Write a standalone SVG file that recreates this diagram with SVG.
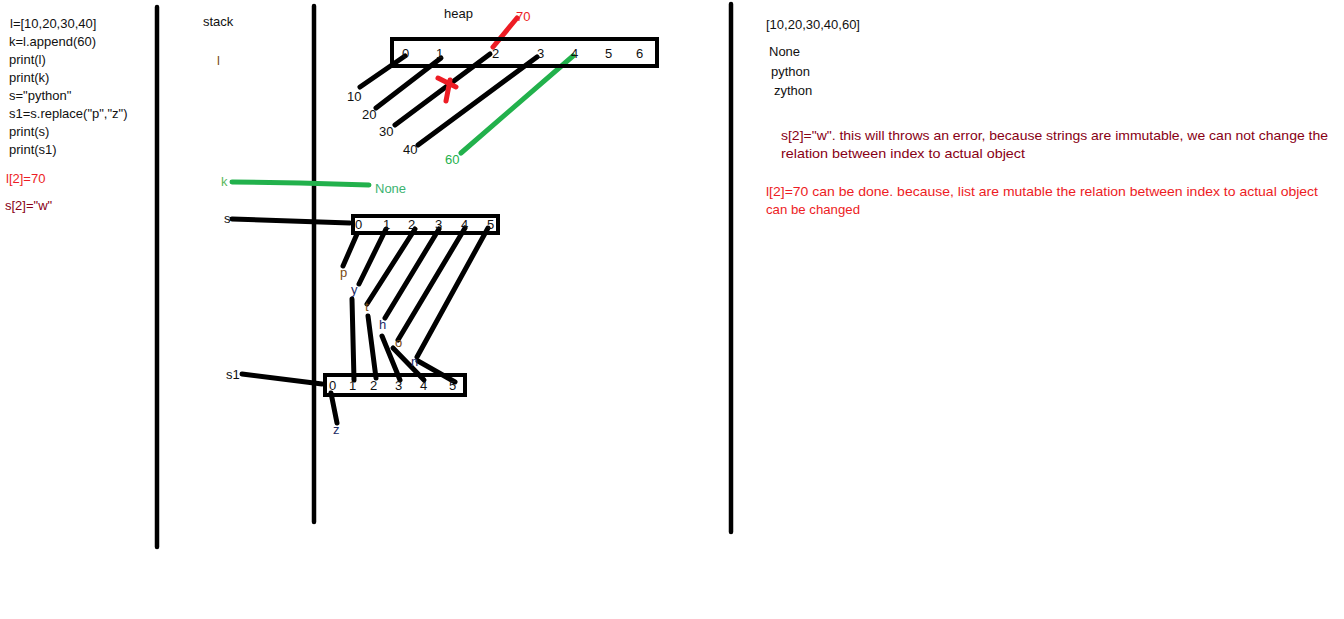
<svg xmlns="http://www.w3.org/2000/svg" width="1344" height="619" viewBox="0 0 1344 619">
<style>
text{font-family:"Liberation Sans",Arial,sans-serif;font-size:13px;fill:#111}
.red{fill:#ed1c24}
.dred{fill:#880015}
.grn{fill:#22b14c}
.brn{fill:#7a4a12}
.blu{fill:#1a2a66}
.ln{stroke:#000;stroke-width:5;stroke-linecap:round;fill:none}
.div{stroke:#000;stroke-width:4.5;stroke-linecap:round}
.box{fill:none;stroke:#000;stroke-width:4}
.gl{stroke:#22b14c;stroke-width:5;stroke-linecap:round;fill:none}
.rl{stroke:#ed1c24;stroke-width:5;stroke-linecap:round;fill:none}
</style>
<rect width="1344" height="619" fill="#fff"/>

<g id="dividers">
<line class="div" x1="157" y1="7" x2="157" y2="547"/>
<line class="div" x1="314" y1="6" x2="314" y2="522"/>
<line class="div" x1="731" y1="4" x2="731" y2="532"/>
</g>

<g id="code">
<text x="10" y="28">l=[10,20,30,40]</text>
<text x="9" y="46">k=l.append(60)</text>
<text x="9" y="64">print(l)</text>
<text x="9" y="82">print(k)</text>
<text x="9" y="100">s="python"</text>
<text x="9" y="118">s1=s.replace("p","z")</text>
<text x="9" y="136">print(s)</text>
<text x="9" y="154">print(s1)</text>
<text class="red" x="6" y="183">l[2]=70</text>
<text class="dred" x="5" y="210">s[2]="w"</text>
</g>

<g id="stack">
<text x="203" y="26">stack</text>
<text class="brn" x="217" y="65">l</text>
<text style="fill:#5cb85c" x="221" y="186">k</text>
<text x="224" y="223">s</text>
<text x="226" y="379">s1</text>
</g>

<g id="heap-title">
<text x="444" y="18">heap</text>
</g>

<g id="connectors">
<line class="ln" x1="405" y1="56" x2="360" y2="87"/>
<line class="ln" x1="441" y1="58" x2="376" y2="108"/>
<line class="ln" x1="490" y1="54" x2="395" y2="125"/>
<line class="ln" x1="537" y1="57" x2="418" y2="145"/>
<line class="gl" x1="573" y1="56" x2="461" y2="153"/>
<line class="rl" x1="493" y1="47" x2="517" y2="18"/>
<line class="rl" x1="438" y1="78" x2="456" y2="87"/>
<line class="rl" x1="450" y1="80" x2="446" y2="101"/>
<polyline class="gl" points="232,182 300,183 369,185"/>
<line class="ln" x1="232" y1="219" x2="350" y2="223"/>
<line class="ln" x1="357" y1="234" x2="343" y2="266"/>
<line class="ln" x1="386" y1="229" x2="359" y2="284"/>
<line class="ln" x1="415" y1="229" x2="367" y2="304"/>
<line class="ln" x1="439" y1="229" x2="385" y2="318"/>
<line class="ln" x1="465" y1="228" x2="398" y2="340"/>
<line class="ln" x1="488" y1="228" x2="417" y2="357"/>
<line class="ln" x1="352" y1="299" x2="354" y2="380"/>
<line class="ln" x1="368" y1="316" x2="376" y2="378"/>
<line class="ln" x1="382" y1="336" x2="400" y2="380"/>
<line class="ln" x1="393" y1="348" x2="424" y2="380"/>
<line class="ln" x1="418" y1="361" x2="455" y2="382"/>
<line class="ln" x1="331" y1="393" x2="337" y2="423"/>
<line class="ln" x1="242" y1="374" x2="322" y2="384"/>
</g>

<g id="list-object">
<rect class="box" x="392" y="39" width="265" height="27"/>
<text x="402" y="58">0</text>
<text x="436" y="58">1</text>
<text x="492" y="58">2</text>
<text x="537" y="58">3</text>
<text x="571" y="58">4</text>
<text x="605" y="58">5</text>
<text x="636" y="58">6</text>
<text class="red" x="516" y="21">70</text>
<text x="347" y="101">10</text>
<text x="362" y="119">20</text>
<text x="379" y="136">30</text>
<text x="403" y="154">40</text>
<text class="grn" x="445" y="164">60</text>
</g>

<g id="none-object">
<text style="fill:#3cb371" x="375" y="193">None</text>
</g>

<g id="string-s">
<rect class="box" x="353" y="216" width="145" height="17"/>
<text x="355" y="229">0</text>
<text x="383" y="229">1</text>
<text x="408" y="229">2</text>
<text x="435" y="229">3</text>
<text x="461" y="229">4</text>
<text x="487" y="229">5</text>
<text class="brn" x="340" y="277">p</text>
<text class="blu" x="351" y="294">y</text>
<text class="brn" x="365" y="311">t</text>
<text class="blu" x="379" y="329">h</text>
<text class="brn" x="395" y="347">o</text>
<text class="blu" x="411" y="366">n</text>
</g>

<g id="string-s1">
<rect class="box" x="325" y="375" width="140" height="20"/>
<text x="329" y="390">0</text>
<text x="349" y="390">1</text>
<text x="370" y="390">2</text>
<text x="395" y="390">3</text>
<text x="420" y="390">4</text>
<text x="449" y="390">5</text>
<text class="blu" x="333" y="434">z</text>
</g>

<g id="output">
<text x="766" y="29">[10,20,30,40,60]</text>
<text x="769" y="56">None</text>
<text x="771" y="76">python</text>
<text x="774" y="95">zython</text>
</g>

<g id="notes">
<text class="dred" x="781" y="140" textLength="547" lengthAdjust="spacingAndGlyphs">s[2]="w". this will throws an error, because strings are immutable, we can not change the</text>
<text class="dred" x="781" y="158" textLength="244" lengthAdjust="spacingAndGlyphs">relation between index to actual object</text>
<text class="red" x="766" y="196" textLength="552" lengthAdjust="spacingAndGlyphs">l[2]=70 can be done. because, list are mutable the relation between index to actual object</text>
<text class="red" x="766" y="214" textLength="94" lengthAdjust="spacingAndGlyphs">can be changed</text>
</g>
</svg>
